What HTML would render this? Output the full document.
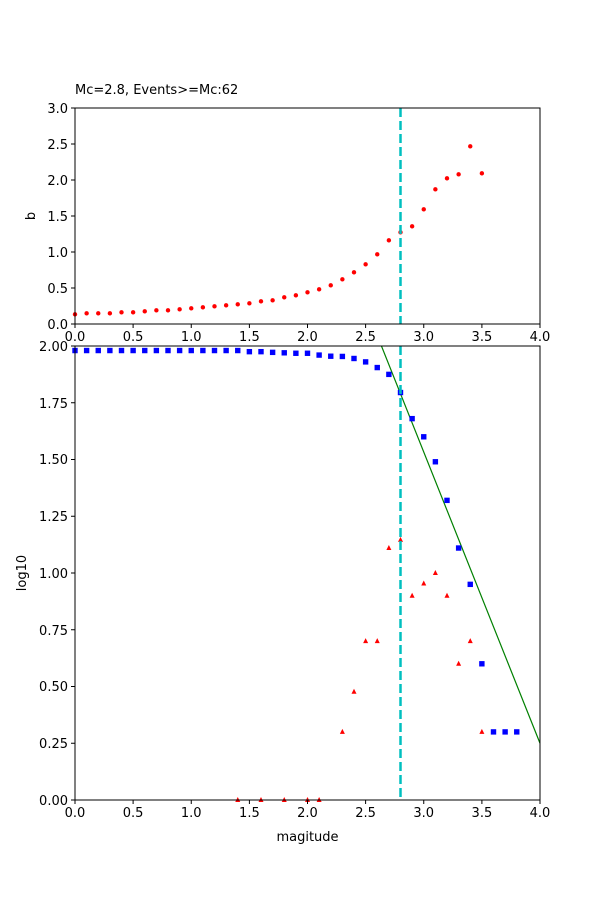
<!DOCTYPE html>
<html><head><meta charset="utf-8"><style>
body{margin:0;background:#fff}
svg{display:block}
text{font-family:"DejaVu Sans","Liberation Sans",sans-serif;font-size:13px;fill:#000}
</style></head><body>
<svg id="s" width="600" height="900" xmlns="http://www.w3.org/2000/svg">
<rect width="600" height="900" fill="#fff"/>
<g id="pts"></g>
<!-- top axes -->
<rect x="75" y="108" width="465" height="216" fill="none" stroke="#000" stroke-width="1"/>
<text x="75" y="94">Mc=2.8, Events&gt;=Mc:62</text>
<g stroke="#000">
<line x1="71" y1="324" x2="75" y2="324"/><line x1="71" y1="288" x2="75" y2="288"/><line x1="71" y1="252" x2="75" y2="252"/><line x1="71" y1="216" x2="75" y2="216"/><line x1="71" y1="180" x2="75" y2="180"/><line x1="71" y1="144" x2="75" y2="144"/><line x1="71" y1="108" x2="75" y2="108"/>
<line x1="75" y1="324" x2="75" y2="328"/><line x1="133.1" y1="324" x2="133.1" y2="328"/><line x1="191.25" y1="324" x2="191.25" y2="328"/><line x1="249.4" y1="324" x2="249.4" y2="328"/><line x1="307.5" y1="324" x2="307.5" y2="328"/><line x1="365.6" y1="324" x2="365.6" y2="328"/><line x1="423.75" y1="324" x2="423.75" y2="328"/><line x1="481.9" y1="324" x2="481.9" y2="328"/><line x1="540" y1="324" x2="540" y2="328"/>
</g>
<g text-anchor="end">
<text x="68" y="329">0.0</text><text x="68" y="293">0.5</text><text x="68" y="257">1.0</text><text x="68" y="221">1.5</text><text x="68" y="185">2.0</text><text x="68" y="149">2.5</text><text x="68" y="113">3.0</text>
</g>
<g text-anchor="middle">
<text x="75" y="341">0.0</text><text x="133.1" y="341">0.5</text><text x="191.25" y="341">1.0</text><text x="249.4" y="341">1.5</text><text x="307.5" y="341">2.0</text><text x="365.6" y="341">2.5</text><text x="423.75" y="341">3.0</text><text x="481.9" y="341">3.5</text><text x="540" y="341">4.0</text>
</g>
<text x="35" y="216" text-anchor="middle" transform="rotate(-90 35 216)">b</text>
<!-- bottom axes -->
<rect x="75" y="346" width="465" height="454" fill="none" stroke="#000" stroke-width="1"/>
<g stroke="#000">
<line x1="71" y1="800" x2="75" y2="800"/><line x1="71" y1="743.25" x2="75" y2="743.25"/><line x1="71" y1="686.5" x2="75" y2="686.5"/><line x1="71" y1="629.75" x2="75" y2="629.75"/><line x1="71" y1="573" x2="75" y2="573"/><line x1="71" y1="516.25" x2="75" y2="516.25"/><line x1="71" y1="459.5" x2="75" y2="459.5"/><line x1="71" y1="402.75" x2="75" y2="402.75"/><line x1="71" y1="346" x2="75" y2="346"/>
<line x1="75" y1="800" x2="75" y2="804"/><line x1="133.1" y1="800" x2="133.1" y2="804"/><line x1="191.25" y1="800" x2="191.25" y2="804"/><line x1="249.4" y1="800" x2="249.4" y2="804"/><line x1="307.5" y1="800" x2="307.5" y2="804"/><line x1="365.6" y1="800" x2="365.6" y2="804"/><line x1="423.75" y1="800" x2="423.75" y2="804"/><line x1="481.9" y1="800" x2="481.9" y2="804"/><line x1="540" y1="800" x2="540" y2="804"/>
</g>
<g text-anchor="end">
<text x="68" y="805">0.00</text><text x="68" y="748">0.25</text><text x="68" y="691">0.50</text><text x="68" y="635">0.75</text><text x="68" y="578">1.00</text><text x="68" y="521">1.25</text><text x="68" y="464">1.50</text><text x="68" y="408">1.75</text><text x="68" y="351">2.00</text>
</g>
<g text-anchor="middle">
<text x="75" y="817">0.0</text><text x="133.1" y="817">0.5</text><text x="191.25" y="817">1.0</text><text x="249.4" y="817">1.5</text><text x="307.5" y="817">2.0</text><text x="365.6" y="817">2.5</text><text x="423.75" y="817">3.0</text><text x="481.9" y="817">3.5</text><text x="540" y="817">4.0</text>
</g>
<text x="307.5" y="841" text-anchor="middle">magitude</text>
<text x="26" y="573" text-anchor="middle" transform="rotate(-90 26 573)">log10</text>
</svg>
<script>
var g=document.getElementById('pts'),NS="http://www.w3.org/2000/svg";
function X(m){return 75+m*116.25}
function el(t,a){var e=document.createElementNS(NS,t);for(var k in a)e.setAttribute(k,a[k]);g.appendChild(e);}
var zy=[703,700,700,700,697,697,694,691,691,688,685,682,679,676,673,670,664,661,652,646,637,628,616,598,577,553,523,481,457,439,388,328,295,283,199,280];
zy.forEach(function(v,i){el('circle',{cx:X(i*0.1),cy:80+v/3,r:2.2,fill:'#f00'});});
var blue=[1.98,1.98,1.98,1.98,1.98,1.98,1.98,1.98,1.98,1.98,1.98,1.98,1.98,1.98,1.98,1.975,1.975,1.972,1.97,1.968,1.968,1.96,1.955,1.954,1.945,1.93,1.905,1.875,1.795,1.68,1.60,1.49,1.32,1.11,0.95,0.60,0.30,0.30,0.30];
function Y(v){return 800-v*227}
// green line
el('line',{x1:X(2.636),y1:Y(2),x2:X(4),y2:Y(0.25),stroke:'#008000','stroke-width':1.2});
blue.forEach(function(v,i){el('rect',{x:X(i*0.1)-2.7,y:Y(v)-2.7,width:5.4,height:5.4,fill:'#00f'});});
var red=[[1.4,0],[1.6,0],[1.8,0],[2.0,0],[2.1,0],[2.3,0.30],[2.4,0.477],[2.5,0.70],[2.6,0.70],[2.7,1.11],[2.8,1.146],[2.9,0.90],[3.0,0.954],[3.1,1.0],[3.2,0.90],[3.3,0.60],[3.4,0.70],[3.5,0.30]];
red.forEach(function(p){var x=X(p[0]),y=Y(p[1]);el('polygon',{points:(x-2.5)+','+(y+2)+' '+(x+2.5)+','+(y+2)+' '+x+','+(y-3),fill:'#f00'});});
// dashed cyan lines
el('line',{x1:X(2.8),y1:108,x2:X(2.8),y2:324,stroke:'#00bfbf','stroke-width':2.5,'stroke-dasharray':'9,4'});
el('line',{x1:X(2.8),y1:346,x2:X(2.8),y2:800,stroke:'#00bfbf','stroke-width':2.5,'stroke-dasharray':'9,4'});
</script>
</body></html>
